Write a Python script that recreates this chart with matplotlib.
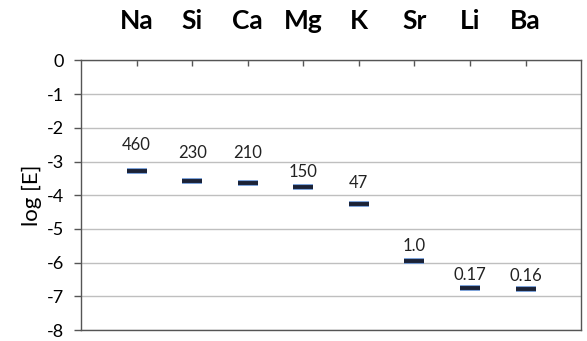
import matplotlib.pyplot as plt

elements = ['Na', 'Si', 'Ca', 'Mg', 'K', 'Sr', 'Li', 'Ba']
log_e = [-3.28, -3.57, -3.64, -3.77, -4.27, -5.96, -6.74, -6.77]
labels = ['460', '230', '210', '150', '47', '1.0', '0.17', '0.16']
# label offset above each marker (points)
label_dy = [19, 20, 22, 11, 15, 11, 9, 9]

plt.rcParams['font.family'] = ['Lato', 'DejaVu Sans']

fig = plt.figure(figsize=(5.87, 3.41), dpi=100)
ax = fig.add_axes([0.138, 0.032, 0.852, 0.791])

x = list(range(1, len(elements) + 1))
ax.plot(x, log_e, linestyle='none', marker='_', markersize=15,
        markeredgewidth=4.0, color='#5b8bd0', zorder=3)
ax.plot(x, log_e, linestyle='none', marker='_', markersize=14.5,
        markeredgewidth=2.8, color='#1b2236', zorder=4)

for xi, yi, lab, dy in zip(x, log_e, labels, label_dy):
    ax.annotate(lab, (xi, yi), xytext=(0, dy), textcoords='offset points',
                ha='center', va='center', fontsize=12, color='#222222')

ax.set_xlim(0, 9)
ax.set_ylim(-8, 0)
ax.set_yticks(range(-8, 1))
ax.set_yticklabels([str(v) for v in range(-8, 1)])
ax.yaxis.grid(True, color='#bfbfbf', linewidth=1)
ax.set_axisbelow(True)

ax.xaxis.tick_top()
ax.set_xticks(x)
ax.set_xticklabels(elements, fontsize=19, fontweight='bold')
ax.tick_params(axis='x', direction='in', length=4, width=1, color='#555555', pad=20)
ax.tick_params(axis='y', direction='out', length=5, width=1, color='#555555',
               pad=7, labelsize=13)

for s in ax.spines.values():
    s.set_color('#555555')
    s.set_linewidth(1)

ax.set_ylabel('log [E]', fontsize=16, labelpad=4)

fig.savefig('out.png', dpi=100)
